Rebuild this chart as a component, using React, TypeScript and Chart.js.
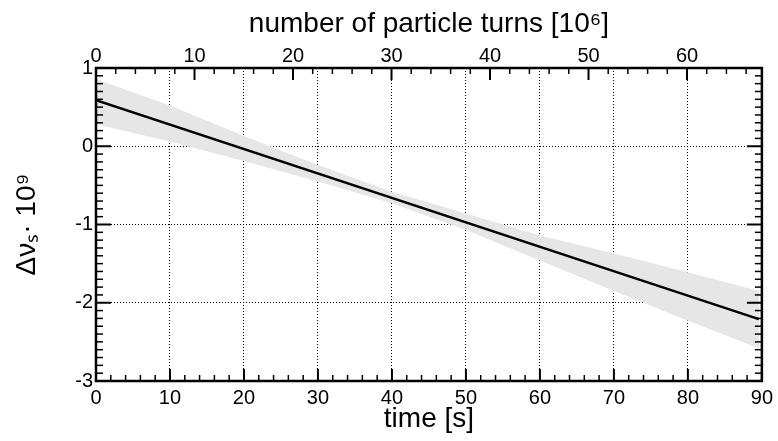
import React, { useEffect, useRef } from "react";
import { Chart, registerables } from "chart.js";

Chart.register(...registerables);

// ---- data ----
const bandTimes = [0, 10, 20, 30, 40, 50, 60, 70, 80, 89.6];
const bandUpper = [0.86, 0.52, 0.13, -0.24, -0.58, -0.86, -1.14, -1.37, -1.61, -1.85];
const bandLower = [0.28, 0.06, -0.19, -0.45, -0.73, -1.07, -1.46, -1.85, -2.23, -2.58];
const fitTimes = [0, 89.6];
const fitValues = [0.59, -2.21];

const timeMin = 0;
const timeMax = 90;
const turnsMax = 67.6; // 10^6 turns at t = 90 s
const yMin = -3;
const yMax = 1;

const xTitle = "time [s]";
const topTitle = "number of particle turns [10\u2076]";
const yTitle = "\u0394\u03bd\u209b\u00b7 10\u2079";

const FONT = "'Liberation Sans', Arial, Helvetica, sans-serif";

const innerTicks = {
  id: "innerTicks",
  afterDatasetsDraw(chart: any) {
    const { ctx, chartArea: a, scales } = chart;
    ctx.save();
    ctx.strokeStyle = "#000";
    const drawH = (scale: any, edgeY: number, dir: number, major: number, minor: number, majLen: number, minLen: number) => {
      const n = Math.floor((scale.max - scale.min) / minor + 1e-6);
      for (let i = 0; i <= n; i++) {
        const v = scale.min + i * minor;
        const isMaj = Math.abs(v / major - Math.round(v / major)) < 1e-6;
        const px = scale.getPixelForValue(v);
        ctx.lineWidth = isMaj ? 2 : 1.5;
        ctx.beginPath();
        ctx.moveTo(px, edgeY);
        ctx.lineTo(px, edgeY + dir * (isMaj ? majLen : minLen));
        ctx.stroke();
      }
    };
    const drawV = (scale: any, edgeX: number, dir: number, major: number, minor: number, majLen: number, minLen: number) => {
      const n = Math.floor((scale.max - scale.min) / minor + 1e-6);
      for (let i = 0; i <= n; i++) {
        const v = scale.min + i * minor;
        const isMaj = Math.abs(v / major - Math.round(v / major)) < 1e-6;
        const py = scale.getPixelForValue(v);
        ctx.lineWidth = isMaj ? 2 : 1.5;
        ctx.beginPath();
        ctx.moveTo(edgeX, py);
        ctx.lineTo(edgeX + dir * (isMaj ? majLen : minLen), py);
        ctx.stroke();
      }
    };
    drawH(scales.x, a.bottom, -1, 10, 2, 12, 6);
    drawH(scales.xTop, a.top, 1, 10, 2, 12, 6);
    drawV(scales.y, a.left, 1, 1, 0.1, 15, 7);
    drawV(scales.yRight, a.right, -1, 1, 0.1, 15, 7);
    ctx.lineWidth = 2.5;
    ctx.strokeRect(a.left, a.top, a.right - a.left, a.bottom - a.top);
    ctx.restore();
  },
};

export default function App() {
  const ref = useRef<HTMLCanvasElement | null>(null);

  useEffect(() => {
    if (!ref.current) return;
    const upper = bandTimes.map((t, i) => ({ x: t, y: bandUpper[i] }));
    const lower = bandTimes.map((t, i) => ({ x: t, y: bandLower[i] }));
    const fit = fitTimes.map((t, i) => ({ x: t, y: fitValues[i] }));
    const tickFont = { family: FONT, size: 20 };
    const titleFont = { family: FONT, size: 28 };
    const dotted = { display: false, dash: [1, 2] };
    const chart = new Chart(ref.current, {
      type: "line",
      data: {
        datasets: [
          {
            data: upper,
            borderWidth: 0,
            pointRadius: 0,
            backgroundColor: "#e6e6e6",
            fill: "+1",
            tension: 0,
            order: 2,
          },
          {
            data: lower,
            borderWidth: 0,
            pointRadius: 0,
            backgroundColor: "#e6e6e6",
            fill: false,
            tension: 0,
            order: 3,
          },
          {
            data: fit,
            borderColor: "#000",
            borderWidth: 2.5,
            pointRadius: 0,
            fill: false,
            tension: 0,
            order: 0,
          },
        ],
      },
      options: {
        responsive: false,
        animation: false,
        devicePixelRatio: 1,
        layout: { padding: 0 },
        plugins: { legend: { display: false }, tooltip: { enabled: false } },
        scales: {
          x: {
            type: "linear",
            position: "bottom",
            min: timeMin,
            max: timeMax,
            ticks: { stepSize: 10, color: "#000", font: tickFont, padding: 5, maxRotation: 0 },
            grid: { color: "#000", lineWidth: 1, drawTicks: false },
            border: dotted,
            title: { display: true, text: xTitle, color: "#000", font: titleFont, padding: { bottom: 5 } },
            afterFit: (s: any) => { s.height = 60; },
          },
          xTop: {
            type: "linear",
            position: "top",
            min: 0,
            max: turnsMax,
            ticks: { stepSize: 10, color: "#000", font: tickFont, padding: 0, includeBounds: false, maxRotation: 0 },
            grid: { display: false, drawTicks: false },
            border: { display: false },
            title: { display: true, text: topTitle, color: "#000", font: titleFont, padding: { top: 7 } },
            afterFit: (s: any) => { s.height = 68; },
          },
          y: {
            type: "linear",
            position: "left",
            min: yMin,
            max: yMax,
            ticks: { stepSize: 1, color: "#000", font: tickFont, padding: 3 },
            grid: { color: "#000", lineWidth: 1, drawTicks: false },
            border: dotted,
            title: { display: true, text: yTitle, color: "#000", font: titleFont, padding: { top: 10 } },
            afterFit: (s: any) => { s.width = 96; },
          },
          yRight: {
            type: "linear",
            position: "right",
            min: yMin,
            max: yMax,
            ticks: { display: false, stepSize: 1 },
            grid: { display: false, drawTicks: false },
            border: { display: false },
            afterFit: (s: any) => { s.width = 13; },
          },
        },
      } as any,
      plugins: [innerTicks],
    });
    return () => chart.destroy();
  }, []);

  return (
    <div style={{ position: "absolute", left: 0, top: 0, width: 778, height: 441, background: "#fff" }}>
      <canvas ref={ref} width={778} height={441} />
    </div>
  );
}
